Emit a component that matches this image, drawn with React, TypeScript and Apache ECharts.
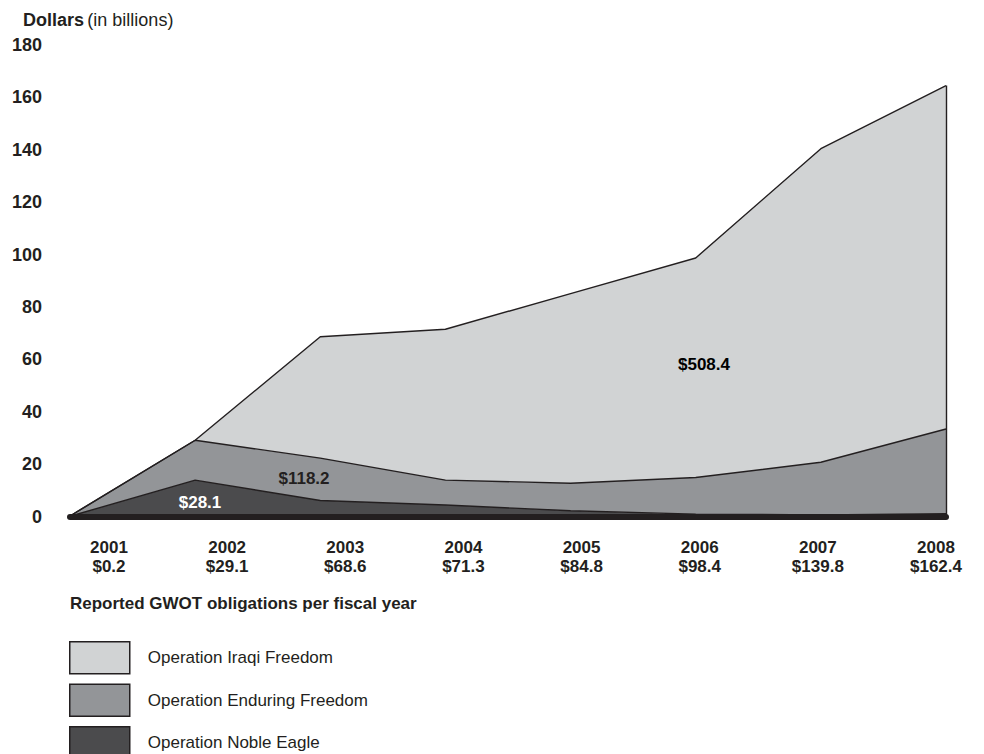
import React, { useEffect, useRef } from "react";
import * as echarts from "echarts";

const years = ["2001", "2002", "2003", "2004", "2005", "2006", "2007", "2008"];
const yearTotals = [0.2, 29.1, 68.6, 71.3, 84.8, 98.4, 139.8, 162.4];
const nobleEagle = [0.1, 13.9, 6.1, 4.4, 2.2, 0.9, 0.6, 1.1];
const enduringFreedom = [0.1, 15.2, 16.2, 9.5, 10.5, 14.0, 20.1, 32.3];
const iraqiFreedom = [0, 0, 46.3, 57.6, 72.4, 83.8, 119.7, 131.1];
const seriesNames = ["Operation Iraqi Freedom", "Operation Enduring Freedom", "Operation Noble Eagle"];
const cumulativeTotals = { oif: 508.4, oef: 118.2, one: 28.1 };
const yTicks = { min: 0, max: 180, interval: 20 };

const FONT = '"Liberation Sans", Arial, Helvetica, sans-serif';
const INK = "#231f20";
const C_OIF = "#d1d3d4";
const C_OEF = "#939598";
const C_ONE = "#4b4b4d";

export default function App() {
  const ref = useRef<HTMLDivElement>(null);
  useEffect(() => {
    if (!ref.current) return;
    const chart = echarts.init(ref.current, null, { renderer: "svg" });
    const gridLeft = 70;
    const gridWidth = 876;
    const labelFirst = 109;
    const labelStep = 118.14;
    const pxPerUnit = labelStep;
    const lblMin = -(labelFirst - gridLeft) / pxPerUnit;
    const lblMax = lblMin + gridWidth / pxPerUnit;
    const topTotal = iraqiFreedom[7] + enduringFreedom[7] + nobleEagle[7];

    const mkSeries = (name: string, data: number[], fill: string, extra: any = {}) => ({
      name,
      type: "line",
      stack: "gwot",
      data,
      symbol: "none",
      xAxisIndex: 0,
      yAxisIndex: 0,
      itemStyle: { color: fill },
      lineStyle: { color: INK, width: 1.4 },
      areaStyle: { color: fill, opacity: 1 },
      emphasis: { disabled: true },
      silent: true,
      ...extra,
    });

    chart.setOption({
      animation: false,
      textStyle: { fontFamily: FONT },
      grid: { left: gridLeft, width: gridWidth, top: 45, height: 471.5 },
      xAxis: [
        {
          type: "category",
          data: years,
          boundaryGap: false,
          offset: 2.5,
          axisLine: { show: true, lineStyle: { color: INK, width: 6 } },
          axisTick: { show: false },
          axisLabel: { show: false },
          splitLine: { show: false },
          z: 5,
        },
        {
          type: "value",
          position: "bottom",
          min: lblMin,
          max: lblMax,
          axisLine: { show: false },
          axisTick: { show: false },
          splitLine: { show: false },
          axisLabel: {
            customValues: years.map((_, i) => i),
            margin: 21,
            fontSize: 17,
            fontWeight: "bold",
            color: INK,
            fontFamily: FONT,
            lineHeight: 19,
            formatter: (v: number) => {
              const i = Math.round(v);
              return years[i] + "\n$" + yearTotals[i].toFixed(1);
            },
          },
        },
      ],
      yAxis: {
        type: "value",
        min: yTicks.min,
        max: yTicks.max,
        interval: yTicks.interval,
        axisLine: { show: false },
        axisTick: { show: false },
        splitLine: { show: false },
        axisLabel: {
          margin: 28,
          fontSize: 18,
          fontWeight: "bold",
          color: INK,
          fontFamily: FONT,
        },
      },
      legend: {
        orient: "vertical",
        left: 69,
        top: 641,
        height: 140,
        padding: 0,
        icon: "rect",
        itemWidth: 60,
        itemHeight: 32,
        itemGap: 9,
        data: seriesNames,
        selectedMode: false,
        itemStyle: { borderColor: INK, borderWidth: 1.5 },
        textStyle: { fontSize: 17, color: INK, fontFamily: FONT, padding: [0, 0, 0, 13] },
      },
      series: [
        mkSeries(seriesNames[2], nobleEagle, C_ONE),
        mkSeries(seriesNames[1], enduringFreedom, C_OEF),
        mkSeries(seriesNames[0], iraqiFreedom, C_OIF, {
          markLine: {
            silent: true,
            symbol: "none",
            label: { show: false },
            lineStyle: { color: INK, width: 1.4, type: "solid" },
            data: [[{ coord: [7, 0] }, { coord: [7, topTotal] }]],
          },
        }),
      ],
      graphic: [
        {
          type: "text",
          left: 23,
          top: 11,
          style: {
            text: "{b|Dollars} {n|(in billions)}",
            rich: {
              b: { fontSize: 18, fontWeight: "bold", fill: INK, fontFamily: FONT },
              n: { fontSize: 18, fill: INK, fontFamily: FONT },
            },
          },
        },
        {
          type: "text",
          left: 70,
          top: 595,
          style: {
            text: "Reported GWOT obligations per fiscal year",
            fontSize: 17,
            fontWeight: "bold",
            fill: INK,
            fontFamily: FONT,
          },
        },
        {
          type: "text",
          x: 704,
          y: 364,
          style: {
            text: "$" + cumulativeTotals.oif.toFixed(1),
            fontSize: 17,
            fontWeight: "bold",
            fill: "#000",
            fontFamily: FONT,
            align: "center",
            verticalAlign: "middle",
          },
          z: 10,
        },
        {
          type: "text",
          x: 304,
          y: 478,
          style: {
            text: "$" + cumulativeTotals.oef.toFixed(1),
            fontSize: 17,
            fontWeight: "bold",
            fill: INK,
            fontFamily: FONT,
            align: "center",
            verticalAlign: "middle",
          },
          z: 10,
        },
        {
          type: "text",
          x: 200,
          y: 502,
          style: {
            text: "$" + cumulativeTotals.one.toFixed(1),
            fontSize: 17,
            fontWeight: "bold",
            fill: "#ffffff",
            fontFamily: FONT,
            align: "center",
            verticalAlign: "middle",
          },
          z: 10,
        },
      ],
    });
    return () => chart.dispose();
  }, []);
  return (
    <div
      ref={ref}
      style={{ position: "fixed", left: 0, top: 0, width: 984, height: 754, background: "#fff" }}
    />
  );
}
